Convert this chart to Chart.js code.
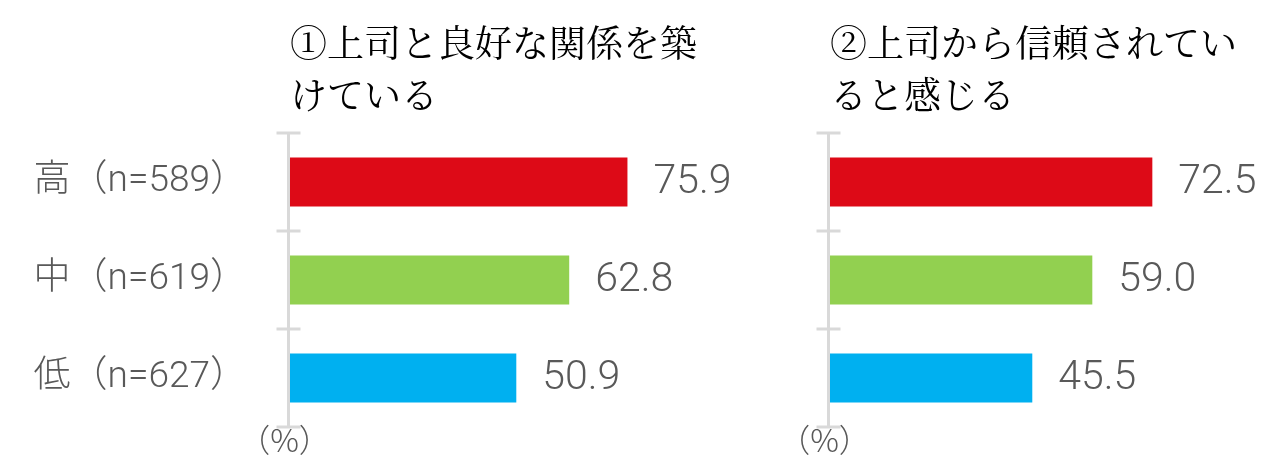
<!DOCTYPE html>
<html lang="ja">
<head>
<meta charset="utf-8">
<script src="https://cdn.jsdelivr.net/npm/chart.js@4"></script>
<style>
    body { margin: 0; background: #fff; }
    .panel { position: absolute; top: 0; }
</style>
</head>
<body>
<canvas id="chartLeft" class="panel" style="left:0" width="780" height="473"></canvas>
<canvas id="chartRight" class="panel" style="left:780px" width="500" height="473"></canvas>
<script>
// data
const categories = ['高（n=589）', '中（n=619）', '低（n=627）'];
const goodRelation = [75.9, 62.8, 50.9];
const trustedByBoss = [72.5, 59.0, 45.5];
const titleLeft = ['①上司と良好な関係を築', 'けている'];
const titleRight = ['②上司から信頼されてい', 'ると感じる'];
const unitLabel = '（%）';

const barColors = ['#DD0A17', '#92D050', '#00B0F0'];
const gray = '#595959';
const axisGray = '#D9D9D9';
const latinFont = "Roboto, 'Noto Sans CJK JP', sans-serif";
const titleFont = "'Noto Serif CJK JP', 'Noto Sans CJK JP', serif";

// axis line with ticks across it, value labels and (%) note
const panelDecor = {
    id: 'panelDecor',
    afterDatasetsDraw(chart) {
        const ctx = chart.ctx;
        const area = chart.chartArea;
        const n = chart.data.labels.length;
        const axisX = area.left - 1.5;

        ctx.save();
        ctx.strokeStyle = axisGray;
        ctx.lineWidth = 3;
        ctx.beginPath();
        ctx.moveTo(axisX, area.top);
        ctx.lineTo(axisX, area.bottom);
        for (let i = 0; i <= n; i++) {
            const y = area.top + i * (area.bottom - area.top) / n;
            ctx.moveTo(axisX - 12, y);
            ctx.lineTo(axisX + 12, y);
        }
        ctx.stroke();

        // values
        ctx.fillStyle = gray;
        ctx.font = '300 41px ' + latinFont;
        ctx.textAlign = 'left';
        ctx.textBaseline = 'middle';
        const meta = chart.getDatasetMeta(0);
        meta.data.forEach((bar, i) => {
            const v = chart.data.datasets[0].data[i];
            ctx.fillText(v.toFixed(1), bar.x + 26, bar.y + 1);
        });

        // unit
        ctx.font = "300 32px 'Noto Sans CJK JP', sans-serif";
        ctx.textAlign = 'center';
        ctx.fillText(unitLabel, axisX - 4, area.bottom + 13);
        ctx.restore();
    }
};

function makeChart(id, values, title, showLabels, axisWidth, padRight) {
    const ctx = document.getElementById(id).getContext('2d');
    return new Chart(ctx, {
        type: 'bar',
        data: {
            labels: categories,
            datasets: [{
                data: values,
                backgroundColor: barColors,
                borderWidth: 0,
                categoryPercentage: 1,
                barPercentage: 0.5
            }]
        },
        options: {
            indexAxis: 'y',
            responsive: false,
            animation: false,
            devicePixelRatio: 1,
            layout: {
                padding: { top: 0, bottom: 46, left: 0, right: padRight }
            },
            plugins: {
                legend: { display: false },
                tooltip: { enabled: false },
                title: {
                    display: true,
                    text: title,
                    align: 'start',
                    fullSize: false,
                    color: '#000',
                    font: { family: titleFont, size: 37, weight: 'normal', lineHeight: 1.41 },
                    padding: { top: 17, bottom: 11.7 }
                }
            },
            scales: {
                x: {
                    display: false,
                    min: 0,
                    max: 100
                },
                y: {
                    afterFit(scale) {
                        scale.width = axisWidth;
                        scale.paddingTop = 0;
                        scale.paddingBottom = 0;
                    },
                    grid: { display: false },
                    border: { display: false },
                    ticks: {
                        display: showLabels,
                        padding: 35,
                        color: gray,
                        font: { family: latinFont, size: 37, weight: 300 }
                    }
                }
            }
        },
        plugins: [panelDecor]
    });
}

makeChart('chartLeft', goodRelation, titleLeft, true, 290, 45.4);
makeChart('chartRight', trustedByBoss, titleRight, false, 50, 5.4);
</script>
</body>
</html>
